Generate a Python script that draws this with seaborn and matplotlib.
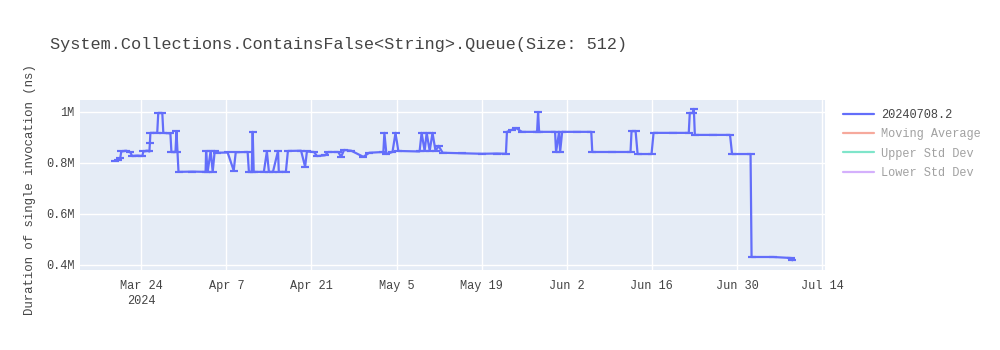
import numpy as np
import pandas as pd
import matplotlib
matplotlib.use('Agg')
import matplotlib.pyplot as plt
import matplotlib.dates as mdates
import seaborn as sns
from matplotlib.lines import Line2D
from matplotlib.ticker import FixedLocator

title = "System.Collections.ContainsFalse<String>.Queue(Size: 512)"
y_label = "Duration of single invocation (ns)"
series_name = "20240708.2"
legend_only = ["Moving Average", "Upper Std Dev", "Lower Std Dev"]

dates = [
    "2024-03-19 17:00", "2024-03-20 05:00", "2024-03-20 13:00", "2024-03-20 17:00",
    "2024-03-21 12:00", "2024-03-22 04:00", "2024-03-22 12:00", "2024-03-23 08:00",
    "2024-03-24 04:00", "2024-03-24 08:00", "2024-03-25 00:00", "2024-03-25 08:00",
    "2024-03-25 10:00", "2024-03-25 12:00", "2024-03-26 15:00", "2024-03-26 19:00",
    "2024-03-27 11:00", "2024-03-27 15:00", "2024-03-28 19:00", "2024-03-28 23:00",
    "2024-03-29 15:00", "2024-03-29 19:00", "2024-03-29 23:00", "2024-03-30 03:00",
    "2024-04-01 10:00", "2024-04-03 14:00", "2024-04-03 16:00", "2024-04-03 22:00",
    "2024-04-04 10:00", "2024-04-04 18:00", "2024-04-05 02:00", "2024-04-05 10:00",
    "2024-04-07 05:00", "2024-04-08 05:00", "2024-04-08 13:00", "2024-04-10 12:00",
    "2024-04-10 17:00", "2024-04-11 04:00", "2024-04-11 08:00", "2024-04-11 12:00",
    "2024-04-13 04:00", "2024-04-13 16:00", "2024-04-14 00:00", "2024-04-14 16:00",
    "2024-04-15 12:00", "2024-04-15 15:00", "2024-04-16 19:00", "2024-04-17 03:00",
    "2024-04-19 07:00", "2024-04-19 23:00", "2024-04-20 06:00", "2024-04-21 10:00",
    "2024-04-21 22:00", "2024-04-23 06:00", "2024-04-23 18:00", "2024-04-25 10:00",
    "2024-04-25 21:00", "2024-04-26 09:00", "2024-04-27 13:00", "2024-04-29 13:00",
    "2024-04-30 12:00", "2024-05-02 20:00", "2024-05-03 00:00", "2024-05-03 08:00",
    "2024-05-04 08:00", "2024-05-04 20:00", "2024-05-05 07:00", "2024-05-08 19:00",
    "2024-05-09 03:00", "2024-05-09 15:00", "2024-05-09 23:00", "2024-05-10 11:00",
    "2024-05-10 22:00", "2024-05-11 10:00", "2024-05-11 22:00", "2024-05-12 14:00",
    "2024-05-15 18:00", "2024-05-19 01:00", "2024-05-21 12:00", "2024-05-23 00:00",
    "2024-05-23 04:00", "2024-05-24 00:00", "2024-05-24 16:00", "2024-05-25 15:00",
    "2024-05-28 03:00", "2024-05-28 07:00", "2024-05-28 11:00", "2024-05-31 02:00",
    "2024-05-31 06:00", "2024-05-31 18:00", "2024-05-31 22:00", "2024-06-01 06:00",
    "2024-06-03 18:00", "2024-06-06 01:00", "2024-06-06 05:00", "2024-06-09 12:00",
    "2024-06-12 12:00", "2024-06-12 16:00", "2024-06-13 08:00", "2024-06-13 16:00",
    "2024-06-15 23:00", "2024-06-16 07:00", "2024-06-19 11:00", "2024-06-22 02:00",
    "2024-06-22 06:00", "2024-06-22 18:00", "2024-06-22 22:00", "2024-06-23 02:00",
    "2024-06-26 01:00", "2024-06-28 21:00", "2024-06-29 05:00", "2024-07-02 06:00",
    "2024-07-02 10:00", "2024-07-05 23:00", "2024-07-08 23:00", "2024-07-09 03:00",
]

durations = [
    809000, 812000, 820000, 845000, 848000, 843000, 827000, 829000,
    827000, 845000, 848000, 845000, 878000, 918000, 918000, 996000,
    996000, 918000, 916000, 843000, 843000, 925000, 843000, 765000,
    766000, 765000, 847000, 765000, 847000, 765000, 847000, 840000,
    841000, 770000, 842000, 843000, 765000, 765000, 922000, 765000,
    765000, 845000, 765000, 765000, 847000, 765000, 765000, 847000,
    848000, 785000, 845000, 843000, 827000, 830000, 843000, 843000,
    824000, 851000, 848000, 824000, 840000, 843000, 918000, 835000,
    843000, 918000, 847000, 845000, 918000, 847000, 918000, 847000,
    918000, 847000, 867000, 840000, 838000, 836000, 837000, 836000,
    922000, 930000, 937000, 922000, 922000, 1000000, 922000, 922000,
    843000, 922000, 843000, 922000, 922000, 922000, 843000, 843000,
    843000, 925000, 925000, 835000, 835000, 918000, 918000, 918000,
    996000, 996000, 1012000, 910000, 910000, 910000, 835000, 835000,
    431000, 431000, 427000, 418000,
]

y_ticks = [400000, 600000, 800000, 1000000]
y_tick_labels = ["0.4M", "0.6M", "0.8M", "1M"]
x_ticks = ["2024-03-24", "2024-04-07", "2024-04-21", "2024-05-05", "2024-05-19",
           "2024-06-02", "2024-06-16", "2024-06-30", "2024-07-14"]
x_tick_labels = ["Mar 24\n2024", "Apr 7", "Apr 21", "May 5", "May 19",
                 "Jun 2", "Jun 16", "Jun 30", "Jul 14"]

df = pd.DataFrame({"date": pd.to_datetime(dates), "duration": durations})

sns.set_theme(style="darkgrid")
FONT = ["Liberation Mono", "DejaVu Sans Mono"]
plt.rcParams["font.family"] = FONT
TXT = "#444444"
BLUE = "#636efa"

fig = plt.figure(figsize=(10, 3.5), dpi=100)
fig.patch.set_facecolor("white")
ax = fig.add_axes([0.080, 0.2286, 0.745, 0.4857])
ax.set_facecolor("#e5ecf6")

sns.lineplot(data=df, x="date", y="duration", ax=ax, color=BLUE, lw=1.6,
             estimator=None, sort=False, legend=False)
ax.errorbar(df["date"], df["duration"], yerr=np.zeros(len(df)), fmt="none",
            ecolor=BLUE, elinewidth=1.5, capsize=3, capthick=1.5)

ax.set_xlim(pd.Timestamp("2024-03-13 22:00"), pd.Timestamp("2024-07-14 12:00"))
ax.set_ylim(380000, 1047000)

ax.yaxis.set_major_locator(FixedLocator(y_ticks))
ax.set_yticklabels(y_tick_labels)
xt = mdates.date2num(pd.to_datetime(x_ticks))
ax.xaxis.set_major_locator(FixedLocator(xt))
ax.set_xticklabels(x_tick_labels)

ax.grid(True, color="white", lw=1.0)
for s in ax.spines.values():
    s.set_visible(False)
ax.tick_params(axis="both", length=0, labelsize=8.6, labelcolor=TXT)
ax.tick_params(axis="x", pad=7)
ax.tick_params(axis="y", pad=4)
for lab in ax.get_xticklabels() + ax.get_yticklabels():
    lab.set_family(FONT)
for lab in ax.get_xticklabels():
    lab.set_linespacing(1.35)
ax.set_xlabel("")
ax.set_ylabel("")

fig.text(0.05, 1 - 45 / 350, title, fontsize=12.15, color=TXT, family=FONT,
         va="center", ha="left")
fig.text(0.030, 1 - 190 / 350, y_label, fontsize=8.9, color=TXT, family=FONT,
         rotation=90, va="center", ha="center")

handles = [Line2D([], [], color=BLUE, lw=1.6)]
faded = ["#ef553b", "#00cc96", "#ab63fa"]
for c in faded:
    handles.append(Line2D([], [], color=c, lw=1.6, alpha=0.5))
leg = fig.legend(handles, [series_name] + legend_only, loc="upper left",
                 bbox_to_anchor=(0.838, 1 - 104 / 350), frameon=False,
                 prop={"family": FONT, "size": 8.6}, handlelength=2.6,
                 handletextpad=0.6, labelspacing=0.62, borderaxespad=0)
for i, t in enumerate(leg.get_texts()):
    t.set_color(TXT)
    if i > 0:
        t.set_alpha(0.5)

fig.savefig("out.png", dpi=100)
